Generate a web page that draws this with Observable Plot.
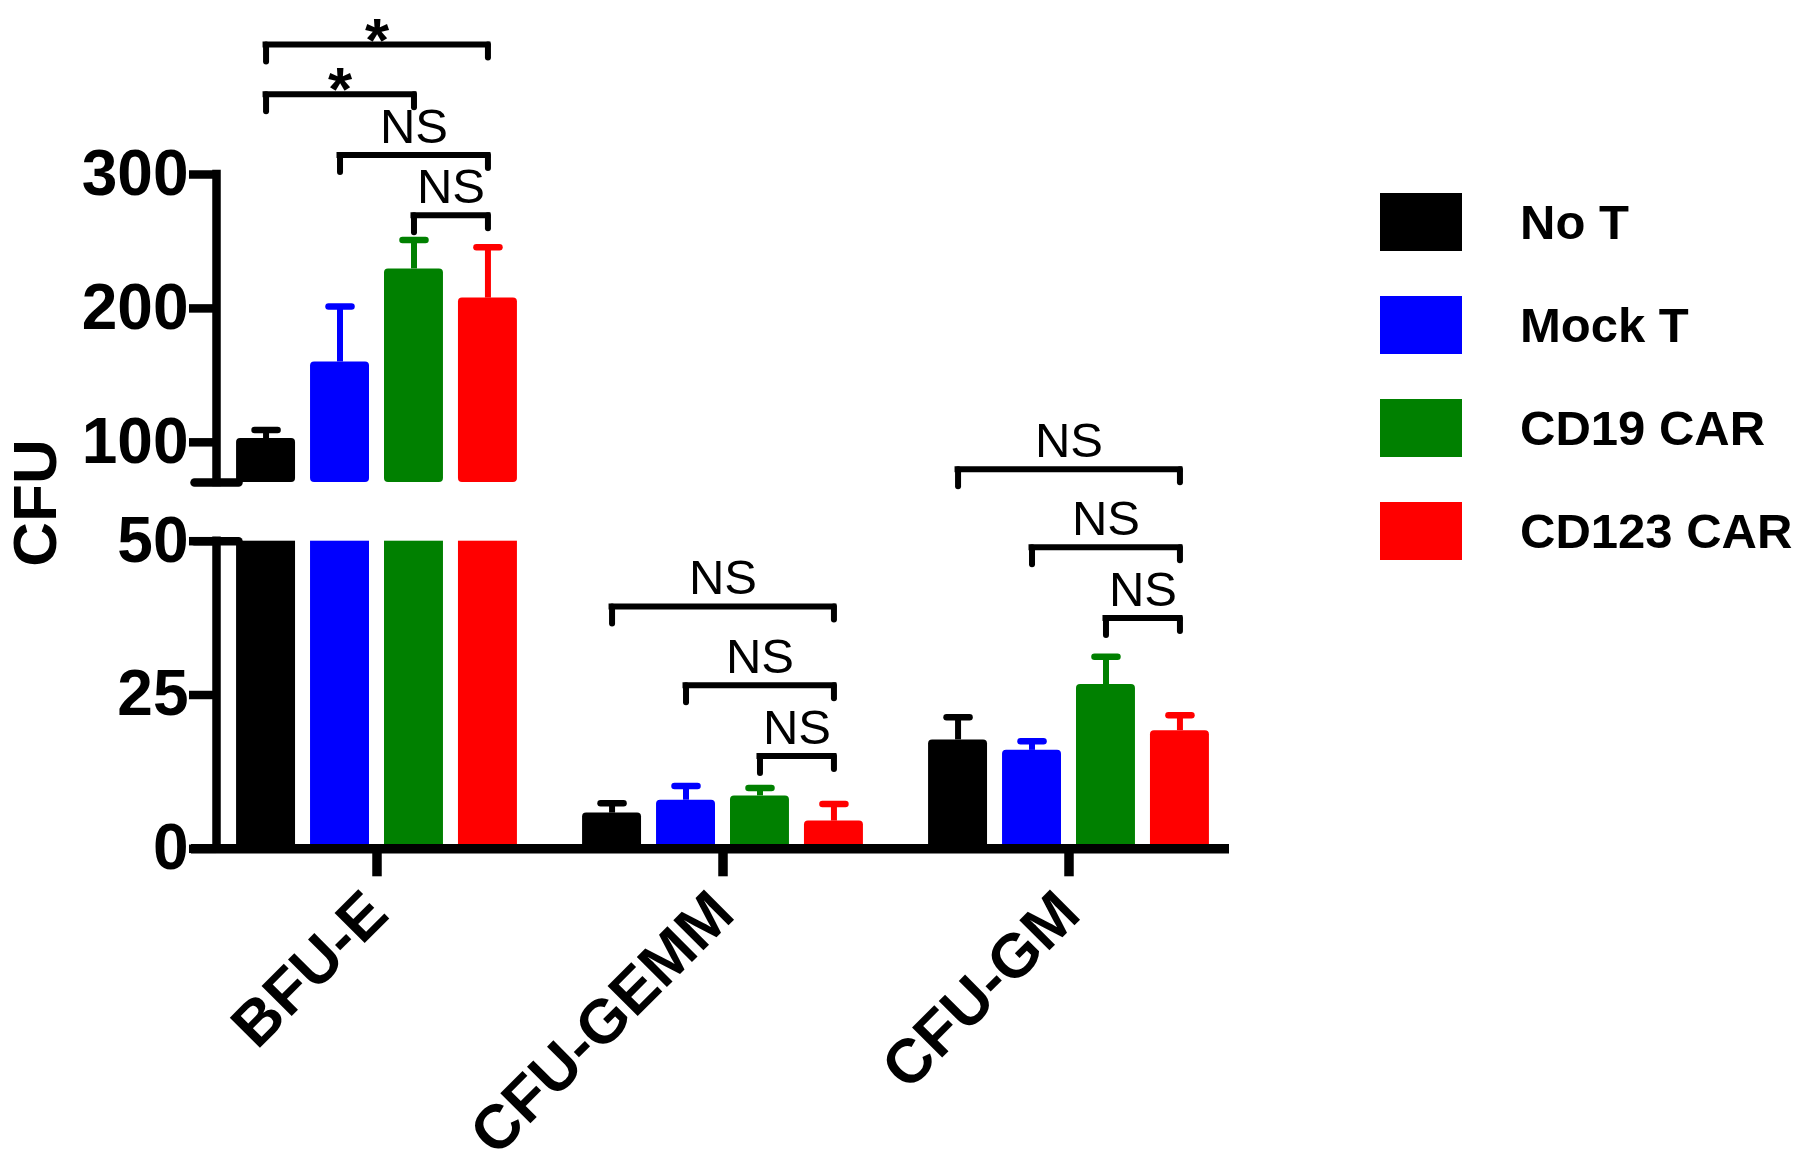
<!DOCTYPE html>
<html>
<head>
<meta charset="utf-8">
<script src="https://cdn.jsdelivr.net/npm/d3@7"></script>
<script src="https://cdn.jsdelivr.net/npm/@observablehq/plot@0.6"></script>
<style>
  html, body { margin: 0; padding: 0; background: #ffffff; }
  #wrap { position: relative; width: 1800px; height: 1176px; overflow: hidden; background: #ffffff; }
  #chart { position: absolute; left: 0; top: 0; }
  #legend { position: absolute; left: 1380px; top: 193px; width: 420px; }
  #legend, #legend * { font-family: "Liberation Sans", Arial, sans-serif !important; font-weight: bold !important; font-size: 49px !important; color: #000; }
  #legend svg { margin-right: 58px !important; }
  #legend [class$="-swatch"] { padding-bottom: 45px !important; }
</style>
</head>
<body>
<div id="wrap"><div id="chart"></div><div id="legend"></div></div>
<script>
// ---------- data ----------
const groups = ["BFU-E", "CFU-GEMM", "CFU-GM"];
const series = ["No T", "Mock T", "CD19 CAR", "CD123 CAR"];
const colors = ["#000000", "#0000ff", "#008000", "#ff0000"];

const meanBFUE = [102.8, 160.0, 229.5, 207.7];
const semBFUE  = [6.4, 41.5, 21.5, 38.0];
const meanGEMM = [5.8, 7.9, 8.6, 4.5];
const semGEMM  = [1.6, 2.3, 1.3, 2.8];
const meanGM   = [17.7, 16.0, 26.7, 19.2];
const semGM    = [3.7, 1.5, 4.5, 2.5];

const yTicks = [0, 25, 50, 100, 200, 300];
const axisBreak = [50, 70];          // lower segment ends at 50, upper starts at 70
const yLabel = "CFU";

const bracketGroup = ["BFU-E", "BFU-E", "BFU-E", "BFU-E", "CFU-GEMM", "CFU-GEMM", "CFU-GEMM", "CFU-GM", "CFU-GM", "CFU-GM"];
const bracketFrom  = ["No T", "No T", "Mock T", "CD19 CAR", "No T", "Mock T", "CD19 CAR", "No T", "Mock T", "CD19 CAR"];
const bracketTo    = ["CD123 CAR", "CD19 CAR", "CD123 CAR", "CD123 CAR", "CD123 CAR", "CD123 CAR", "CD123 CAR", "CD123 CAR", "CD123 CAR", "CD123 CAR"];
const bracketLevel = [397, 360, 314.5, 269.6, 39.4, 26.6, 15.1, 79.9, 49.0, 37.5];
const bracketLabel = ["*", "*", "NS", "NS", "NS", "NS", "NS", "NS", "NS", "NS"];

// ---------- derived tables ----------
const means = [meanBFUE, meanGEMM, meanGM];
const sems = [semBFUE, semGEMM, semGM];
const rows = groups.flatMap((g, gi) => series.map((s, si) => ({
  group: g, series: s, pos: si, mean: means[gi][si], sem: sems[gi][si]
})));
const lowerParts = rows.map(d => ({...d, lo: 0, hi: Math.min(d.mean, axisBreak[0]), cut: d.mean > axisBreak[0]}));
const upperParts = rows.filter(d => d.mean > axisBreak[1]).map(d => ({...d, lo: axisBreak[1], hi: d.mean}));
const brackets = bracketGroup.map((g, i) => ({
  group: g,
  from: series.indexOf(bracketFrom[i]) + 0.5,
  to: series.indexOf(bracketTo[i]) + 0.5,
  level: bracketLevel[i],
  label: bracketLabel[i]
}));
const yAxisSegments = [{lo: 0, hi: axisBreak[0]}, {lo: axisBreak[1], hi: yTicks[yTicks.length - 1]}];

// ---------- layout ----------
const xDomain = [-0.17, 4.17];
const yRange = [848.3, 540.7, 482, 174];
const center = d => d.pos + 0.5;
const lineShape = {draw(context, l) { context.moveTo(0, 0); context.lineTo(0, -l); }};
const font = "'Liberation Sans', Arial, Helvetica, sans-serif";

const chart = Plot.plot({
  width: 1800,
  height: 1176,
  marginLeft: 215,
  marginRight: 570.7,
  marginTop: 174,
  marginBottom: 327.7,
  style: {fontFamily: font, background: "transparent", overflow: "visible"},
  fx: {domain: groups, paddingInner: 0.0719, paddingOuter: 0},
  x: {type: "linear", domain: xDomain, axis: null},
  y: {type: "linear", domain: [0, axisBreak[0], axisBreak[1], 300], range: yRange},
  color: {domain: series, range: colors},
  marks: [
    // error bars
    Plot.ruleX(rows, {fx: "group", x: center, y1: "mean", y2: d => d.mean + d.sem, stroke: "series", strokeWidth: 6}),
    Plot.vector(rows, {fx: "group", x: center, y: d => d.mean + d.sem, rotate: 90, anchor: "middle", length: 23, shape: lineShape, stroke: "series", strokeWidth: 6.5, strokeLinecap: "round"}),
    // bars (split by the axis break)
    Plot.rectY(lowerParts.filter(d => d.cut), {fx: "group", x1: "pos", x2: d => d.pos + 1, y1: "lo", y2: "hi", fill: "series", insetLeft: 7.5, insetRight: 7.5}),
    Plot.rectY(lowerParts.filter(d => !d.cut), {fx: "group", x1: "pos", x2: d => d.pos + 1, y1: "lo", y2: "hi", fill: "series", insetLeft: 7.5, insetRight: 7.5, rx: 4}),
    Plot.rectY(upperParts, {fx: "group", x1: "pos", x2: d => d.pos + 1, y1: "lo", y2: "hi", fill: "series", insetLeft: 7.5, insetRight: 7.5, rx: 4}),
    // x axis line
    Plot.ruleY([0], {strokeWidth: 9.5, insetLeft: -25}),
    // broken y axis line
    Plot.ruleX(yAxisSegments, {x: xDomain[0], y1: "lo", y2: "hi", strokeWidth: 8.5, strokeLinecap: "square", facetAnchor: "left"}),
    Plot.vector(axisBreak, {y: d => d, frameAnchor: "left", rotate: 90, anchor: "middle", length: 44, shape: lineShape, strokeWidth: 8.5, facetAnchor: "left"}),
    Plot.axisY({ticks: yTicks, tickSize: 27, tickPadding: 1, strokeWidth: 8.5, fontSize: 64, fontWeight: "bold", label: null}),
    Plot.axisFx({anchor: "bottom", tickSize: 28, tickPadding: 26, tickRotate: -45, textAnchor: "end", lineAnchor: "middle", strokeWidth: 9.5, fontSize: 62, fontWeight: "bold", label: null}),
    // significance brackets
    Plot.ruleY(brackets, {fx: "group", x1: "from", x2: "to", y: "level", strokeWidth: 6, strokeLinecap: "square"}),
    Plot.vector(brackets, {fx: "group", x: "from", y: "level", rotate: 180, anchor: "start", length: 17, shape: lineShape, strokeWidth: 6, strokeLinecap: "round"}),
    Plot.vector(brackets, {fx: "group", x: "to", y: "level", rotate: 180, anchor: "start", length: 13, shape: lineShape, strokeWidth: 6, strokeLinecap: "round"}),
    Plot.text(brackets.filter(d => d.label !== "*"), {fx: "group", x: d => (d.from + d.to) / 2, y: "level", text: "label", lineAnchor: "top", dy: -47, fontSize: 49}),
    Plot.text(brackets.filter(d => d.label === "*"), {fx: "group", x: d => (d.from + d.to) / 2, y: "level", text: "label", lineAnchor: "top", dy: -28, fontSize: 62, fontWeight: "bold"}),
    // y axis title
    Plot.text([yLabel], {text: d => d, frameAnchor: "left", rotate: -90, dx: -180, dy: 55, fontSize: 62, fontWeight: "bold", facetAnchor: "left"})
  ]
});
document.getElementById("chart").appendChild(chart);

const legend = Plot.legend({
  legend: "swatches",
  color: {type: "ordinal", domain: series, range: colors},
  columns: 1,
  swatchWidth: 82,
  swatchHeight: 58,
  className: "lg"
});
document.getElementById("legend").appendChild(legend);
</script>
</body>
</html>
